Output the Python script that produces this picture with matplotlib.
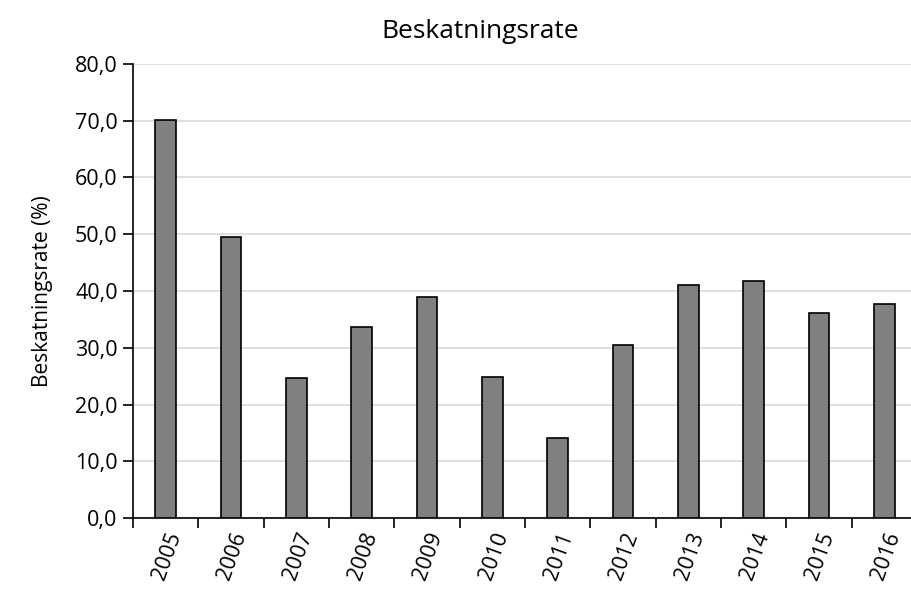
import matplotlib
matplotlib.use("Agg")
import matplotlib.pyplot as plt
import numpy as np
from matplotlib.ticker import FuncFormatter, FixedLocator

years = ["2005", "2006", "2007", "2008", "2009", "2010",
         "2011", "2012", "2013", "2014", "2015", "2016"]
rate = [70.2, 49.5, 24.6, 33.7, 38.9, 24.9, 14.1, 30.4, 41.1, 41.8, 36.2, 37.7]

plt.rcParams["font.family"] = ["Open Sans", "DejaVu Sans"]

fig = plt.figure(figsize=(9.12, 5.99), dpi=100)
ax = fig.add_axes([133/912, 81/599, 784/912, 454/599])

x = np.arange(len(years))
ax.bar(x, rate, width=0.32, color="#808080", edgecolor="black", linewidth=1.2, zorder=3)

ax.set_xlim(-0.5, len(years) - 0.5)
ax.set_ylim(0, 80)
ax.set_yticks(np.arange(0, 81, 10))
ax.yaxis.set_major_formatter(FuncFormatter(lambda v, p: f"{v:.1f}".replace(".", ",")))
ax.grid(axis="y", color="#d9d9d9", linewidth=1.2, zorder=0)

ax.set_xticks(x)
ax.set_xticklabels(years, rotation=70, ha="right", va="top", rotation_mode="anchor")
ax.xaxis.set_minor_locator(FixedLocator(np.arange(-0.5, len(years), 1)))
ax.tick_params(axis="x", which="major", length=0, pad=8, labelsize=15.5)
ax.tick_params(axis="x", which="minor", length=7, width=1.2, direction="out")
ax.tick_params(axis="y", length=7, width=1.2, labelsize=15.5, pad=4)

for s in ["top", "right"]:
    ax.spines[s].set_visible(False)
for s in ["left", "bottom"]:
    ax.spines[s].set_linewidth(1.2)

ax.set_ylabel("Beskatningsrate (%)", fontsize=15, labelpad=16)
fig.text(480/912, 1 - 31/599, "Beskatningsrate", ha="center", va="center", fontsize=19)

plt.savefig("out.png", dpi=100)
